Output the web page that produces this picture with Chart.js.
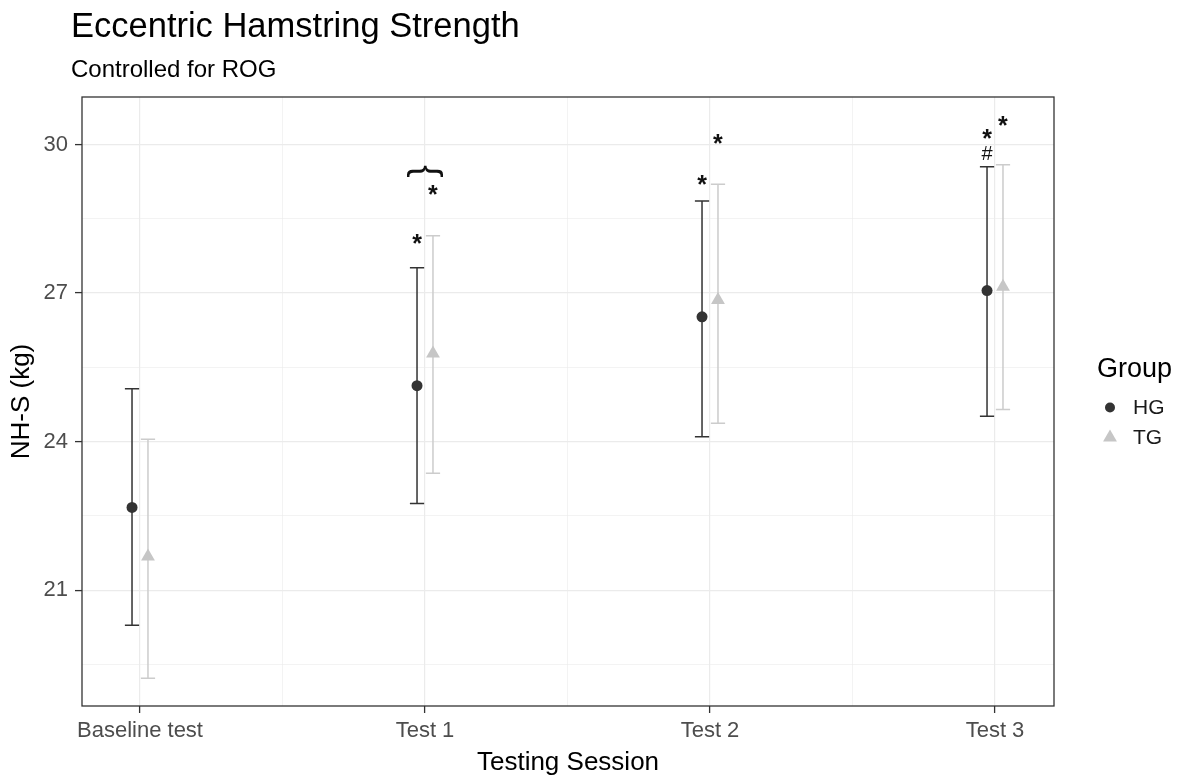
<!DOCTYPE html>
<html lang="en">
<head>
<meta charset="UTF-8">
<title>Eccentric Hamstring Strength</title>
<script src="https://cdn.jsdelivr.net/npm/chart.js"></script>
<style>
  html, body { margin: 0; padding: 0; background: #fff; }
  #wrap { width: 1183px; height: 784px; }
</style>
</head>
<body>
<div id="wrap"><canvas id="hamChart"></canvas></div>
<script>
const sessions = ['Baseline test', 'Test 1', 'Test 2', 'Test 3'];
const groups = ['HG', 'TG'];

const hgMean = [22.67, 25.13, 26.52, 27.05];
const hgLow  = [20.29, 22.75, 24.10, 24.51];
const hgHigh = [25.07, 27.51, 28.86, 29.55];

const tgMean = [21.68, 25.78, 26.86, 27.13];
const tgLow  = [19.22, 23.36, 24.37, 24.65];
const tgHigh = [24.05, 28.16, 29.20, 29.59];

const xMajor = [1, 2, 3, 4];
const xMinor = [1.5, 2.5, 3.5];
const yMajor = [21, 24, 27, 30];
const yMinor = [19.5, 22.5, 25.5, 28.5];

// significance marks: session index, group side (-1 HG, 1 TG, 0 both), value, symbol
const markSession = [1, 1, 1, 2, 2, 3, 3, 3];
const markSide    = [-1, 1, 0, -1, 1, -1, -1, 1];
const markValue   = [28.10, 29.09, 29.46, 29.29, 30.12, 30.22, 29.84, 30.50];
const markText    = ['*', '*', '{', '*', '*', '*', '#', '*'];

const FONT = '"Liberation Sans", Arial, sans-serif';
const dodge = 0.028;
const capHalf = 0.025;
const hgColor = '#333333';
const tgColor = '#c6c6c6';

Chart.defaults.font.family = FONT;
Chart.defaults.color = '#000';

const errorBars = {
  id: 'errorBars',
  beforeDatasetsDraw(chart) {
    const { ctx, scales: { x, y } } = chart;
    const sets = [
      { off: -dodge, lo: hgLow, hi: hgHigh, color: hgColor },
      { off: dodge, lo: tgLow, hi: tgHigh, color: '#cccccc' }
    ];
    ctx.save();
    ctx.lineWidth = 1.5;
    sets.forEach(s => {
      ctx.strokeStyle = s.color;
      sessions.forEach((_, i) => {
        const c = i + 1 + s.off;
        const px = x.getPixelForValue(c);
        const l = x.getPixelForValue(c - capHalf);
        const r = x.getPixelForValue(c + capHalf);
        const yl = y.getPixelForValue(s.lo[i]);
        const yh = y.getPixelForValue(s.hi[i]);
        ctx.beginPath();
        ctx.moveTo(px, yl); ctx.lineTo(px, yh);
        ctx.moveTo(l, yl); ctx.lineTo(r, yl);
        ctx.moveTo(l, yh); ctx.lineTo(r, yh);
        ctx.stroke();
      });
    });
    ctx.restore();
  }
};

const marks = {
  id: 'marks',
  afterDatasetsDraw(chart) {
    const { ctx, scales: { x, y } } = chart;
    ctx.save();
    ctx.fillStyle = '#111';
    ctx.textAlign = 'center';
    ctx.textBaseline = 'alphabetic';
    markText.forEach((t, k) => {
      const cx = x.getPixelForValue(markSession[k] + 1 + markSide[k] * dodge);
      const cy = y.getPixelForValue(markValue[k]);
      if (t === '*') {
        ctx.font = 'bold 25px ' + FONT;
        ctx.fillText(t, cx, cy + 0.55 * 25);
      } else if (t === '#') {
        ctx.font = '20px ' + FONT;
        ctx.fillText(t, cx, cy + 0.36 * 20);
      } else {
        // brace lying on its side, tip up
        ctx.save();
        ctx.translate(cx, cy);
        ctx.rotate(Math.PI / 2);
        ctx.font = '38px ' + FONT;
        ctx.fillText(t, 0, 0.26 * 38);
        ctx.restore();
      }
    });
    ctx.restore();
  }
};

const frame = {
  id: 'frame',
  afterDraw(chart) {
    const { ctx, chartArea: a } = chart;
    ctx.save();
    ctx.strokeStyle = '#333333';
    ctx.lineWidth = 1.3;
    ctx.strokeRect(a.left, a.top, a.right - a.left, a.bottom - a.top);

    // titles
    ctx.fillStyle = '#000';
    ctx.textAlign = 'left';
    ctx.textBaseline = 'alphabetic';
    ctx.font = '34.5px ' + FONT;
    ctx.fillText('Eccentric Hamstring Strength', a.left - 11, 37);
    ctx.font = '24px ' + FONT;
    ctx.fillText('Controlled for ROG', a.left - 11, 77);

    // legend
    const mid = (a.top + a.bottom) / 2;
    const lx = a.right + 43;
    ctx.font = '27px ' + FONT;
    ctx.fillText('Group', lx, mid - 25);
    const rows = [mid + 6, mid + 36];
    const sx = a.right + 56;
    ctx.fillStyle = hgColor;
    ctx.beginPath();
    ctx.arc(sx, rows[0], 5, 0, Math.PI * 2);
    ctx.fill();
    ctx.fillStyle = tgColor;
    const r = 8;
    ctx.beginPath();
    ctx.moveTo(sx, rows[1] - r);
    ctx.lineTo(sx + r * Math.sin(Math.PI * 2 / 3), rows[1] + r / 2);
    ctx.lineTo(sx - r * Math.sin(Math.PI * 2 / 3), rows[1] + r / 2);
    ctx.closePath();
    ctx.fill();
    ctx.fillStyle = '#1a1a1a';
    ctx.font = '21px ' + FONT;
    ctx.textBaseline = 'middle';
    groups.forEach((g, i) => ctx.fillText(g, a.right + 79, rows[i] + 1));
    ctx.restore();
  }
};

const isIn = (arr, c) => c && c.tick && arr.includes(c.tick.value);

new Chart(document.getElementById('hamChart'), {
  type: 'scatter',
  data: {
    datasets: [
      {
        label: 'HG',
        data: sessions.map((s, i) => ({ x: i + 1 - dodge, y: hgMean[i] })),
        pointStyle: 'circle', pointRadius: 5.5, pointBorderWidth: 0,
        backgroundColor: hgColor, borderColor: hgColor
      },
      {
        label: 'TG',
        data: sessions.map((s, i) => ({ x: i + 1 + dodge, y: tgMean[i] })),
        pointStyle: 'triangle', pointRadius: 8, pointBorderWidth: 0,
        backgroundColor: tgColor, borderColor: tgColor
      }
    ]
  },
  options: {
    responsive: true,
    maintainAspectRatio: false,
    animation: false,
    events: [],
    layout: { padding: { top: 97, right: 129, bottom: 0, left: 0 } },
    plugins: { legend: { display: false }, tooltip: { enabled: false } },
    scales: {
      x: {
        type: 'linear',
        min: 0.7965,
        max: 4.207,
        afterBuildTicks: s => { s.ticks = xMajor.concat(xMinor).sort((a, b) => a - b).map(v => ({ value: v })); },
        afterFit: s => { s.height = 78; },
        ticks: {
          autoSkip: false, maxRotation: 0, padding: 5, color: '#4d4d4d', font: { size: 22 },
          callback: v => { const i = xMajor.indexOf(v); return i >= 0 ? sessions[i] : ''; }
        },
        grid: {
          color: '#ebebeb',
          lineWidth: c => isIn(xMajor, c) ? 1.2 : 0.6,
          tickLength: 7,
          tickWidth: 1.3,
          tickColor: c => isIn(xMajor, c) ? '#333333' : 'rgba(0,0,0,0)'
        },
        border: { display: false },
        title: { display: true, text: 'Testing Session', color: '#000', font: { size: 26 }, padding: { top: 0, bottom: 6 } }
      },
      y: {
        type: 'linear',
        min: 18.66,
        max: 30.96,
        afterBuildTicks: s => { s.ticks = yMinor.concat(yMajor).sort((a, b) => a - b).map(v => ({ value: v })); },
        afterFit: s => { s.width = 82; },
        ticks: {
          autoSkip: false, padding: 7, color: '#4d4d4d', font: { size: 22 },
          callback: v => yMajor.includes(v) ? String(v) : ''
        },
        grid: {
          color: '#ebebeb',
          lineWidth: c => isIn(yMajor, c) ? 1.2 : 0.6,
          tickLength: 7,
          tickWidth: 1.3,
          tickColor: c => isIn(yMajor, c) ? '#333333' : 'rgba(0,0,0,0)'
        },
        border: { display: false },
        title: { display: true, text: 'NH-S (kg)', color: '#000', font: { size: 26 }, padding: { top: 6, bottom: 0 } }
      }
    }
  },
  plugins: [errorBars, marks, frame]
});
</script>
</body>
</html>
